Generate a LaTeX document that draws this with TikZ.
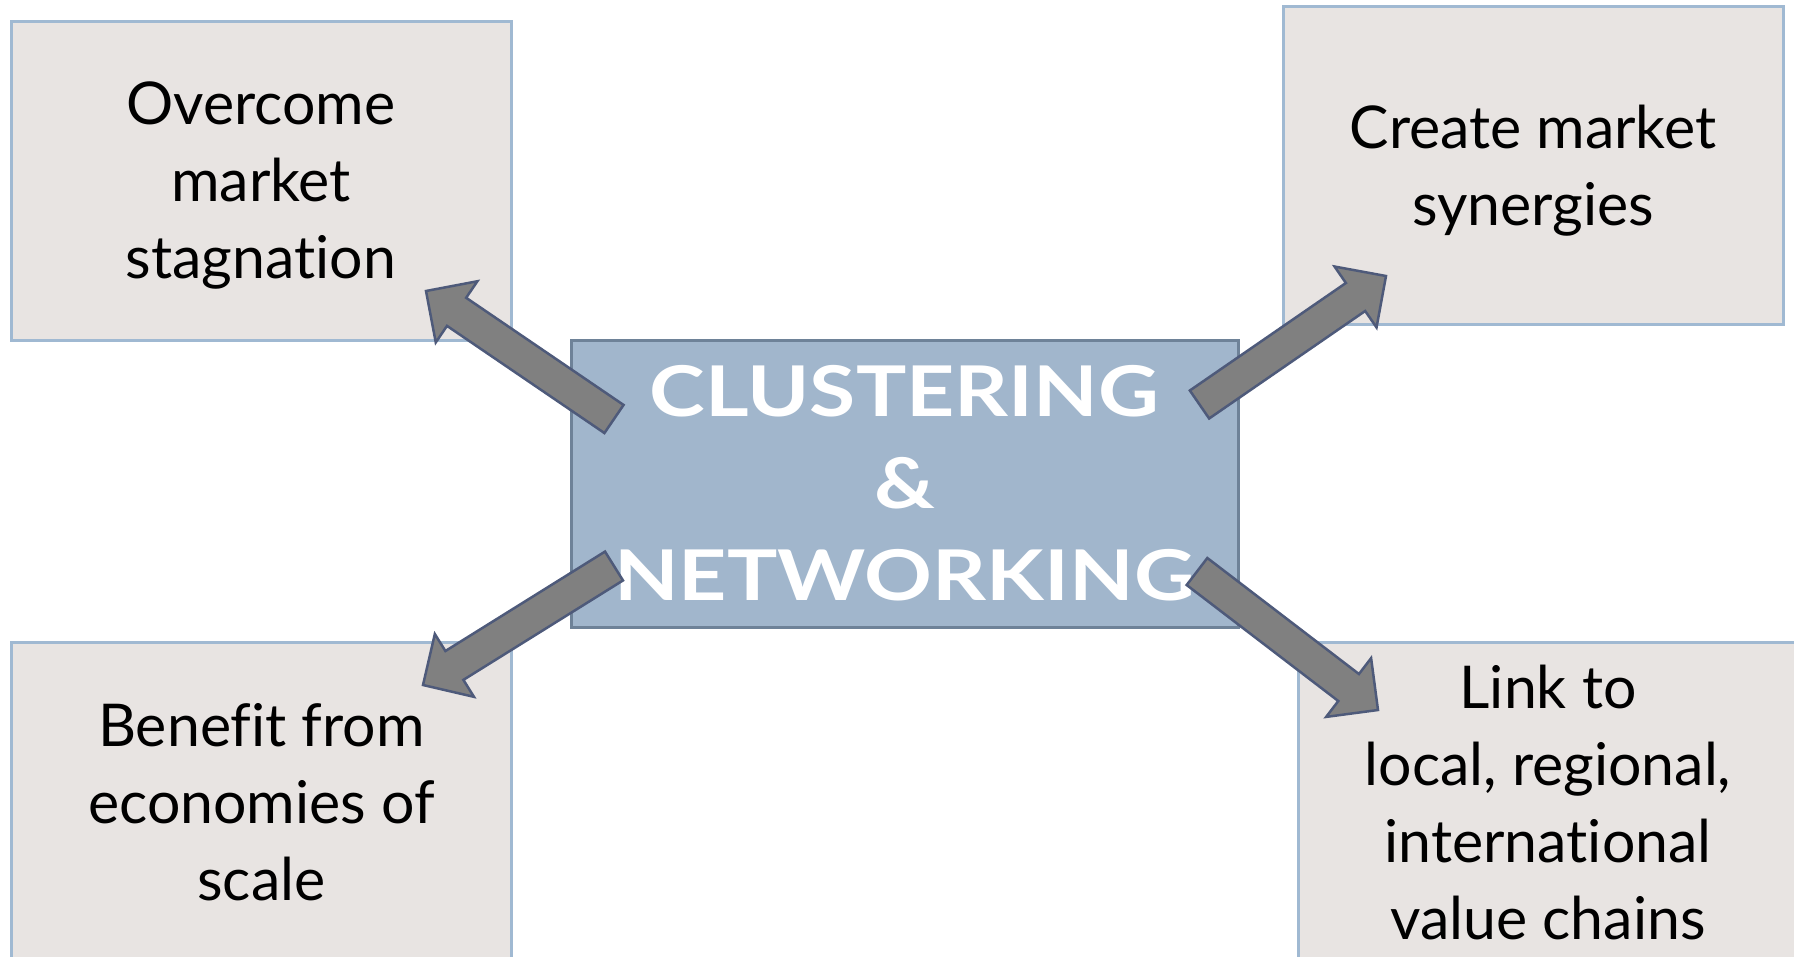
\documentclass[tikz,border=0pt]{standalone}
\usepackage{fontspec}
\setmainfont[Ligatures=NoCommon]{Lato}
\newfontfamily\hubfont[FakeStretch=1.2]{Lato}
\usetikzlibrary{calc}
\definecolor{boxfill}{RGB}{232,228,226}
\definecolor{boxline}{RGB}{160,185,210}
\definecolor{hubfill}{RGB}{161,182,204}
\definecolor{hubline}{RGB}{110,130,152}
\definecolor{arrowfill}{RGB}{128,128,128}
\definecolor{arrowline}{RGB}{78,90,122}
\tikzset{
 goalbox/.style={draw=boxline, line width=3pt, fill=boxfill, minimum width=500pt, minimum height=320pt, inner sep=0pt, align=center, text depth=0pt, font=\fontsize{59}{77}\selectfont},
 hubbox/.style={draw=hubline, line width=3pt, fill=hubfill, minimum width=667pt, minimum height=287pt, inner sep=0pt, align=center, text=white, font=\hubfont\bfseries\fontsize{70}{92}\selectfont},
 blockarrow/.style={fill=arrowfill, draw=arrowline, line width=2.5pt, line join=miter}
}
\newcommand\BlockArrow[2]{%
 \coordinate (#1h) at ($(#2)!37pt!(#1)$);
 \draw[blockarrow] ($(#1)!17pt!90:(#2)$) -- ($(#1h)!17pt!90:(#2)$) -- ($(#1h)!37pt!90:(#2)$) -- (#2)
   -- ($(#1h)!37pt!-90:(#2)$) -- ($(#1h)!17pt!-90:(#2)$) -- ($(#1)!17pt!-90:(#2)$) -- cycle;
}
\begin{document}
\begin{tikzpicture}[x=1pt,y=-1pt]
\useasboundingbox (0,0) rectangle (1794,956);
\fill[white] (0,0) rectangle (1794,956);
\clip (0,0) rectangle (1794,956);
\node[goalbox, minimum height=319pt] (tl) at (261,180.5) {Overcome\\market\\stagnation};
\node[goalbox, minimum height=318pt] (tr) at (1533,165) {Create market\\synergies};
\node[goalbox] (bl) at (261.5,802) {Benefit from\\economies of\\scale};
\node[goalbox] (br) at (1548,802) {Link to\\local, regional,\\international\\value chains};
\node[hubbox] (hub) at (904.5,483.5) {CLUSTERING\\\&\\NETWORKING};
\coordinate (tlt) at (614,419);
\coordinate (tlp) at (426,291);
\coordinate (trt) at (1199.5,404.5);
\coordinate (trp) at (1386,276);
\coordinate (blt) at (614,566);
\coordinate (blp) at (423,685);
\coordinate (brt) at (1197,571.5);
\coordinate (brp) at (1378,710);
\BlockArrow{tlt}{tlp}
\BlockArrow{trt}{trp}
\BlockArrow{blt}{blp}
\BlockArrow{brt}{brp}
\end{tikzpicture}
\end{document}
